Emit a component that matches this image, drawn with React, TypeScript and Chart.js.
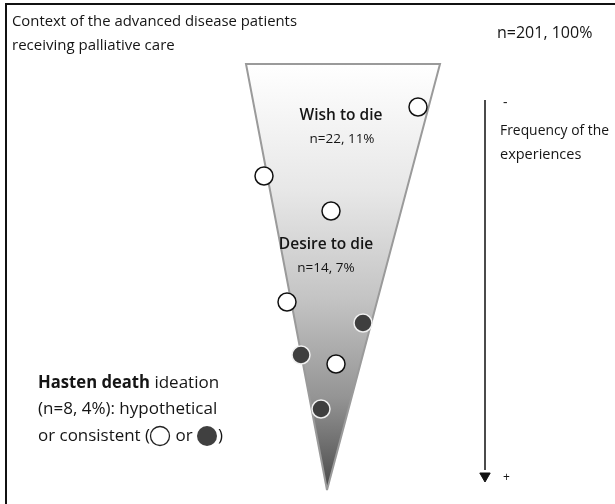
import React, { useEffect, useRef } from "react";
import { Chart, registerables } from "chart.js";
Chart.register(...registerables);

// ---- data ----
const funnelX = [246, 440, 327];
const funnelY = [64, 64, 490];
const hypotheticalX = [418, 264, 331, 287, 336];
const hypotheticalY = [107, 176, 211, 302, 364];
const consistentX = [363, 301, 321];
const consistentY = [323, 355, 409];
const arrowX = [485, 485];
const arrowY = [100, 470];
const arrowHeadX = [485];
const arrowHeadY = [476];

const FONT = "'Open Sans', Lato, sans-serif";

type Txt = { t: string; x: number; y: number; size: number; weight?: string; align?: CanvasTextAlign; w?: number };
const texts: Txt[] = [
  { t: "Context of the advanced disease patients", x: 12, y: 22, size: 15, w: 285 },
  { t: "receiving palliative care", x: 12, y: 46, size: 15, w: 172 },
  { t: "n=201, 100%", x: 497, y: 33, size: 16, w: 101 },
  { t: "Wish to die", x: 341, y: 116, size: 15.5, weight: "600", align: "center" },
  { t: "n=22, 11%", x: 342, y: 139, size: 13.5, align: "center" },
  { t: "Desire to die", x: 326, y: 245, size: 15.5, weight: "600", align: "center" },
  { t: "n=14, 7%", x: 326, y: 268, size: 13.5, align: "center" },
  { t: "-", x: 503, y: 103, size: 14 },
  { t: "Frequency of the", x: 500, y: 131, size: 14.5, w: 109 },
  { t: "experiences", x: 500, y: 155, size: 14.5, w: 83 },
  { t: "+", x: 503, y: 478, size: 12 },
  { t: "(n=8, 4%): hypothetical", x: 38, y: 409, size: 17, w: 182 },
];

const frameX = [6, 6, 615];
const frameY = [504, 4, 4];

const overlay = {
  id: "overlay",
  beforeDatasetsDraw(chart: any) {
    const ctx = chart.ctx;
    const sx = chart.scales.x, sy = chart.scales.y;
    const px = (v: number) => sx.getPixelForValue(v);
    const py = (v: number) => sy.getPixelForValue(v);
    ctx.save();
    ctx.strokeStyle = "#111";
    ctx.lineWidth = 2;
    ctx.beginPath();
    ctx.moveTo(px(frameX[0]), py(frameY[0]));
    for (let i = 1; i < frameX.length; i++) ctx.lineTo(px(frameX[i]), py(frameY[i]));
    ctx.stroke();
    const top = py(funnelY[0]), bot = py(funnelY[2]);
    const g = ctx.createLinearGradient(0, top, 0, bot);
    g.addColorStop(0, "#ffffff");
    g.addColorStop(0.3, "#e7e7e7");
    g.addColorStop(0.55, "#c4c4c4");
    g.addColorStop(0.78, "#959595");
    g.addColorStop(1, "#4a4a4a");
    ctx.beginPath();
    ctx.moveTo(px(funnelX[0]), py(funnelY[0]));
    ctx.lineTo(px(funnelX[1]), py(funnelY[1]));
    ctx.lineTo(px(funnelX[2]), py(funnelY[2]));
    ctx.closePath();
    ctx.fillStyle = g;
    ctx.fill();
    ctx.strokeStyle = "#9a9a9a";
    ctx.lineWidth = 2;
    ctx.beginPath();
    ctx.moveTo(px(funnelX[2]), py(funnelY[2]));
    ctx.lineTo(px(funnelX[0]), py(funnelY[0]));
    ctx.lineTo(px(funnelX[1]), py(funnelY[1]));
    ctx.lineTo(px(funnelX[2]), py(funnelY[2]));
    ctx.stroke();
    ctx.restore();
  },
  afterDatasetsDraw(chart: any) {
    const ctx = chart.ctx;
    const sx = chart.scales.x, sy = chart.scales.y;
    const px = (v: number) => sx.getPixelForValue(v);
    const py = (v: number) => sy.getPixelForValue(v);
    ctx.save();
    ctx.fillStyle = "#151515";
    ctx.textBaseline = "middle";
    for (const t of texts) {
      ctx.font = `${t.weight || "normal"} ${t.size}px ${FONT}`;
      ctx.textAlign = t.align || "left";
      if (t.w) ctx.fillText(t.t, px(t.x), py(t.y), t.w);
      else ctx.fillText(t.t, px(t.x), py(t.y));
    }
    ctx.textAlign = "left";
    let x = px(38);
    ctx.font = `bold 17px ${FONT}`;
    ctx.fillText("Hasten death", x, py(383), 112);
    x += Math.min(112, ctx.measureText("Hasten death").width);
    ctx.font = `normal 17px ${FONT}`;
    ctx.fillText(" ideation", x, py(383), 70);
    x = px(38);
    const y3 = py(436);
    ctx.fillText("or consistent (", x, y3, 112);
    x += Math.min(112, ctx.measureText("or consistent (").width);
    ctx.beginPath();
    ctx.arc(x + 10, y3, 9.5, 0, Math.PI * 2);
    ctx.fillStyle = "#fff";
    ctx.fill();
    ctx.strokeStyle = "#222";
    ctx.lineWidth = 1.3;
    ctx.stroke();
    x += 21;
    ctx.fillStyle = "#151515";
    ctx.fillText(" or ", x, y3);
    x += ctx.measureText(" or ").width;
    ctx.beginPath();
    ctx.arc(x + 10, y3, 10, 0, Math.PI * 2);
    ctx.fillStyle = "#404040";
    ctx.fill();
    x += 21;
    ctx.fillStyle = "#151515";
    ctx.fillText(")", x, y3);
    ctx.restore();
  },
};

const zip = (xs: number[], ys: number[]) => xs.map((x, i) => ({ x, y: ys[i] }));

export default function App() {
  const ref = useRef<HTMLCanvasElement>(null);
  useEffect(() => {
    document.body.style.margin = "0";
    const chart = new Chart(ref.current!, {
      type: "scatter",
      data: {
        datasets: [
          {
            type: "line",
            data: zip(arrowX, arrowY),
            borderColor: "#111",
            borderWidth: 1.5,
            pointRadius: 0,
            showLine: true,
          } as any,
          {
            data: zip(arrowHeadX, arrowHeadY),
            pointStyle: "triangle",
            rotation: 180,
            pointRadius: 6,
            backgroundColor: "#111",
            borderColor: "#111",
            borderWidth: 1,
          } as any,
          {
            data: zip(hypotheticalX, hypotheticalY),
            pointRadius: 9,
            backgroundColor: "#ffffff",
            borderColor: "#111",
            borderWidth: 1.5,
          },
          {
            data: zip(consistentX, consistentY),
            pointRadius: 9,
            backgroundColor: "#3f3f3f",
            borderColor: "#f0f0f0",
            borderWidth: 1.5,
          },
        ],
      },
      options: {
        animation: false,
        responsive: false,
        devicePixelRatio: 1,
        layout: { padding: 0, autoPadding: false },
        plugins: { legend: { display: false }, tooltip: { enabled: false } },
        scales: {
          x: { type: "linear", min: 0, max: 615, display: false },
          y: { type: "linear", min: 0, max: 504, reverse: true, display: false },
        },
      },
      plugins: [overlay],
    });
    return () => chart.destroy();
  }, []);
  return <canvas ref={ref} width={615} height={504} style={{ display: "block", background: "#fff" }} />;
}
